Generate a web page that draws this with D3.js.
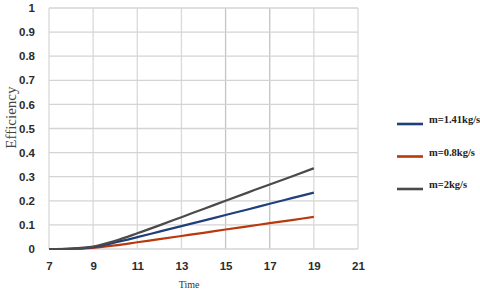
<!DOCTYPE html>
<html>
<head>
<meta charset="utf-8">
<script src="https://cdn.jsdelivr.net/npm/d3@7"></script>
<style>
  html, body { margin: 0; padding: 0; background: #fff; }
  #chart { width: 480px; height: 297px; }
</style>
</head>
<body>
<div id="chart"></div>
<script>
// valores
const times = [7, 8, 9, 10, 11, 12, 13, 14, 15, 16, 17, 18, 19];
const eff141 = [0, 0.001, 0.008, 0.027, 0.049, 0.072, 0.095, 0.118, 0.141, 0.164, 0.188, 0.211, 0.234];
const eff08 = [0, 0.001, 0.005, 0.015, 0.028, 0.041, 0.054, 0.067, 0.081, 0.094, 0.107, 0.12, 0.133];
const eff2 = [0, 0.002, 0.01, 0.034, 0.065, 0.098, 0.132, 0.166, 0.2, 0.234, 0.268, 0.301, 0.335];
const seriesNames = ["m=1.41kg/s", "m=0.8kg/s", "m=2kg/s"];
const seriesColors = ["#1f3f7c", "#b8390b", "#4a4a4a"];
const xTicks = [7, 9, 11, 13, 15, 17, 19, 21];
const yTicks = [0, 0.1, 0.2, 0.3, 0.4, 0.5, 0.6, 0.7, 0.8, 0.9, 1];

const width = 480, height = 297;
const margin = { top: 8, right: 122, bottom: 48, left: 49 };

const svg = d3.select("#chart").append("svg")
  .attr("width", width)
  .attr("height", height);

const x = d3.scaleLinear().domain([7, 21]).range([margin.left, width - margin.right]);
const y = d3.scaleLinear().domain([0, 1]).range([height - margin.bottom, margin.top]);

// grelha
svg.append("g")
  .selectAll("line.v")
  .data(xTicks)
  .enter().append("line")
  .attr("x1", d => x(d)).attr("x2", d => x(d))
  .attr("y1", y(0)).attr("y2", y(1))
  .attr("stroke", d => (d === 15 || d === 17) ? "#c4c4c4" : "#d9d9d9")
  .attr("stroke-width", 1.3);

svg.append("g")
  .selectAll("line.h")
  .data(yTicks)
  .enter().append("line")
  .attr("x1", x(7)).attr("x2", x(21))
  .attr("y1", d => y(d)).attr("y2", d => y(d))
  .attr("stroke", "#d4d4d4")
  .attr("stroke-width", 1.3);

// eixo Y
const yAxis = svg.append("g")
  .attr("transform", `translate(${margin.left},0)`)
  .call(d3.axisLeft(y).tickValues(yTicks).tickSize(0).tickPadding(14).tickFormat(d => d3.format("")(+d.toFixed(1))));
yAxis.select(".domain").remove();
yAxis.selectAll("text")
  .style("font-family", "'Liberation Sans', Arial, sans-serif")
  .style("font-size", "11.5px")
  .style("font-weight", "bold")
  .attr("fill", "#2b2b2b");

// eixo X
const xAxis = svg.append("g")
  .attr("transform", `translate(0,${y(0)})`)
  .call(d3.axisBottom(x).tickValues(xTicks).tickSize(0).tickPadding(13));
xAxis.select(".domain").remove();
xAxis.selectAll("text")
  .style("font-family", "'Liberation Sans', Arial, sans-serif")
  .style("font-size", "11.5px")
  .style("font-weight", "bold")
  .attr("fill", "#2b2b2b");

// títulos dos eixos
svg.append("text")
  .attr("x", x(13.35))
  .attr("y", 288)
  .attr("text-anchor", "middle")
  .style("font-family", "'Liberation Serif', 'Times New Roman', serif")
  .style("font-size", "10px")
  .attr("fill", "#333")
  .text("Time");

svg.append("text")
  .attr("transform", `translate(16,${y(0.545)}) rotate(-90)`)
  .attr("text-anchor", "middle")
  .style("font-family", "'Liberation Serif', 'Times New Roman', serif")
  .style("font-size", "15px")
  .attr("fill", "#444")
  .text("Efficiency");

// linhas
const allSeries = [eff141, eff08, eff2];
const line = d3.line()
  .x((d, i) => x(times[i]))
  .y(d => y(d))
  .curve(d3.curveMonotoneX);

// ordem de desenho: vermelho, azul, cinzento
[1, 0, 2].forEach(k => {
  svg.append("path")
    .datum(allSeries[k])
    .attr("fill", "none")
    .attr("stroke", seriesColors[k])
    .attr("stroke-width", 2.2)
    .attr("d", line);
});

// legenda
const legend = svg.append("g").attr("transform", "translate(397,124)");
seriesNames.forEach((name, i) => {
  const g = legend.append("g").attr("transform", `translate(0,${i * 32.5})`);
  g.append("line")
    .attr("x1", 0).attr("x2", 26)
    .attr("y1", 0).attr("y2", 0)
    .attr("stroke", seriesColors[i])
    .attr("stroke-width", 2.6);
  g.append("text")
    .attr("x", 32)
    .attr("y", -1)
    .style("font-family", "'Liberation Serif', 'Times New Roman', serif")
    .style("font-size", "10.5px")
    .style("font-weight", "bold")
    .attr("fill", "#222")
    .text(name);
});
</script>
</body>
</html>
